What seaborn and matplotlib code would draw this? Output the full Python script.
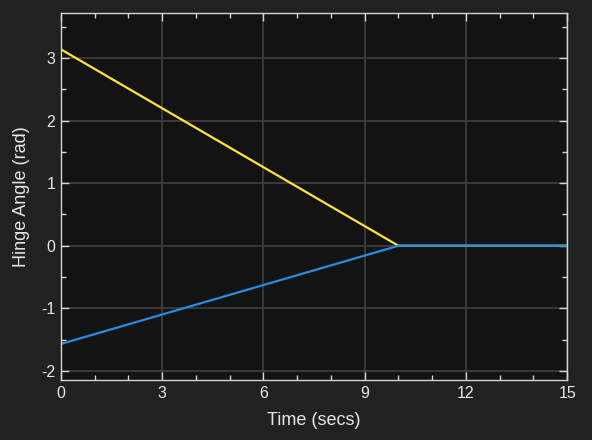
import numpy as np
import matplotlib
matplotlib.use('Agg')
import matplotlib.pyplot as plt
import seaborn as sns
from matplotlib.ticker import MultipleLocator

# data
time_secs = [0, 10, 15]
angle_yellow = [3.1416, 0, 0]
angle_blue = [-1.5708, 0, 0]

sns.set_theme(style='dark')
plt.rcParams['font.family'] = ['Liberation Sans', 'DejaVu Sans']
plt.rcParams['axes.unicode_minus'] = False

fig = plt.figure(figsize=(5.92, 4.4), dpi=100, facecolor='#212121')
ax = fig.add_axes([0.103, 0.136, 0.855, 0.834])
ax.set_facecolor('#131313')

sns.lineplot(x=time_secs, y=angle_yellow, color='#fde43a', linewidth=1.6, ax=ax)
sns.lineplot(x=time_secs, y=angle_blue, color='#2a8be0', linewidth=1.6, ax=ax)

ax.set_xlim(0, 15)
ax.set_ylim(-2.15, 3.72)
ax.set_xticks([0, 3, 6, 9, 12, 15])
ax.set_yticks([-2, -1, 0, 1, 2, 3])
ax.xaxis.set_minor_locator(MultipleLocator(1))
ax.yaxis.set_minor_locator(MultipleLocator(0.5))

ax.grid(True, which='major', color='#404040', linewidth=1.2)
ax.set_axisbelow(True)
for s in ax.spines.values():
    s.set_visible(True)
    s.set_color('#d4d4d4')
    s.set_linewidth(1.0)

ax.tick_params(which='both', direction='in', top=True, right=True,
               bottom=True, left=True, color='#d4d4d4', labelcolor='#e6e6e6',
               labelsize=11.5)
ax.tick_params(which='major', length=6, width=1.0, pad=4)
ax.tick_params(which='minor', length=3.5, width=1.0)

ax.set_xlabel('Time (secs)', fontsize=13, color='#e6e6e6', labelpad=8)
ax.set_ylabel('Hinge Angle (rad)', fontsize=13, color='#e6e6e6', labelpad=8)

fig.savefig('out.png', dpi=100, facecolor=fig.get_facecolor())
